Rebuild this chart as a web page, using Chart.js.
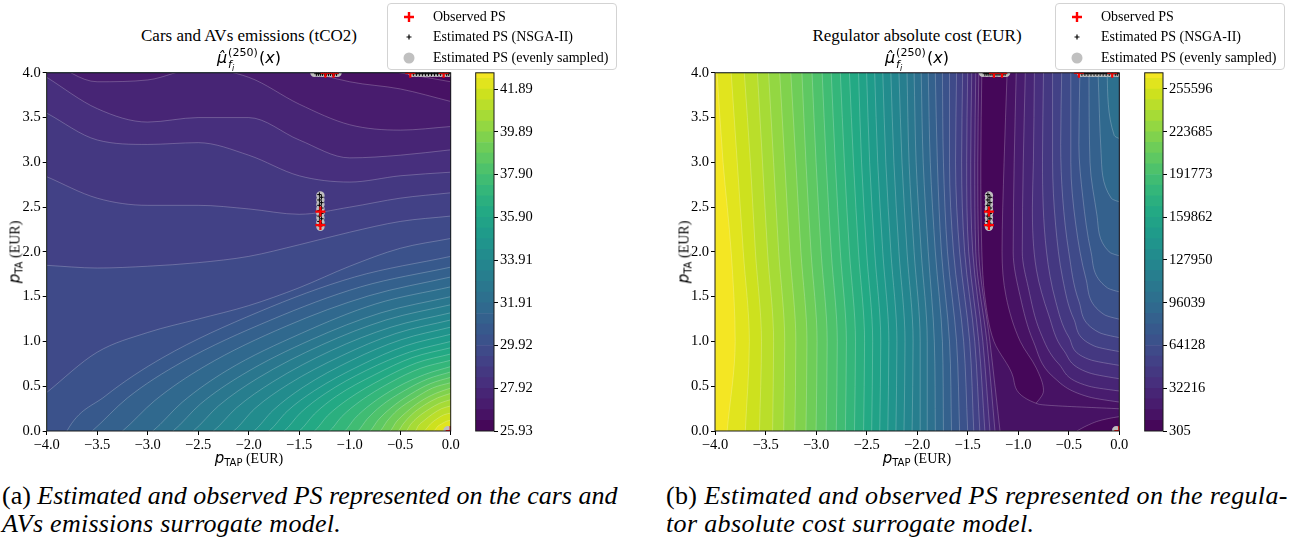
<!DOCTYPE html>
<html><head><meta charset="utf-8">
<script src="https://cdn.jsdelivr.net/npm/chart.js@4.4.0/dist/chart.umd.min.js"></script>
<style>
body{margin:0;width:1293px;height:547px;background:#fff;position:relative;overflow:hidden;font-family:'Liberation Serif',serif;color:#000}
canvas{position:absolute}
.t1{position:absolute;font-size:17px;white-space:nowrap;transform:translateX(-50%);line-height:20px}
.math{position:absolute;font-family:'DejaVu Sans',sans-serif;font-size:16px;white-space:nowrap;transform:translateX(-50%);line-height:22px}
.ss{display:inline-block;position:relative;width:31px;height:10px;margin-left:1px}
.sp{position:absolute;left:0;top:-6px;font-size:11px;line-height:11px}
.sb{position:absolute;left:0;top:6px;font-size:11px;line-height:11px}
.sbi{font-size:8px;position:relative;top:3px}
.xl{position:absolute;white-space:nowrap;transform:translate(-50%,-50%);font-size:14px}
.yl{position:absolute;white-space:nowrap;transform:translate(-50%,-50%) rotate(-90deg);font-size:14px}
.pv{font-family:'DejaVu Sans',sans-serif;font-style:italic;font-size:15px}
.sbs{font-family:'DejaVu Sans',sans-serif;font-size:10px;vertical-align:-3px}
.legend{position:absolute;width:230px;height:67px;border:1px solid #d3d3d3;border-radius:4px;background:rgba(255,255,255,0.9);box-sizing:border-box}
.lrow{position:absolute;left:45px;font-size:14px;white-space:nowrap;transform:translateY(-50%)}
.lmk{position:absolute;left:14px;transform:translateY(-50%)}
.cap{position:absolute;font-size:26px;line-height:28px;white-space:nowrap}
.fontwarm{position:absolute;left:-999px;top:0;font-family:'Liberation Serif';font-size:14.5px}
</style></head><body>
<div class="fontwarm">0123456789.−</div>

<canvas id="cEm" width="460" height="400" style="left:0;top:60px"></canvas>
<canvas id="cEmBar" width="80" height="400" style="left:470px;top:60px"></canvas>
<canvas id="cCost" width="460" height="400" style="left:668px;top:60px"></canvas>
<canvas id="cCostBar" width="90" height="400" style="left:1139px;top:60px"></canvas>

<div class="t1" style="left:249px;top:26px">Cars and AVs emissions (tCO2)</div>
<div class="math" style="left:249px;top:47px"><i>μ̂</i><span class="ss"><span class="sp">(250)</span><span class="sb"><i>f</i><span class="sbi"><i>i</i></span></span></span>(<i>x</i>)</div>
<div class="t1" style="left:917px;top:26px">Regulator absolute cost (EUR)</div>
<div class="math" style="left:917px;top:47px"><i>μ̂</i><span class="ss"><span class="sp">(250)</span><span class="sb"><i>f</i><span class="sbi"><i>i</i></span></span></span>(<i>x</i>)</div>

<div class="xl" style="left:249px;top:458px"><span class="pv">p</span><span class="sbs">TAP</span> (EUR)</div>
<div class="yl" style="left:15px;top:252px"><span class="pv">p</span><span class="sbs">TA</span> (EUR)</div>
<div class="xl" style="left:917px;top:458px"><span class="pv">p</span><span class="sbs">TAP</span> (EUR)</div>
<div class="yl" style="left:684px;top:252px"><span class="pv">p</span><span class="sbs">TA</span> (EUR)</div>

<div class="legend" style="left:387px;top:3px">
  <svg class="lmk" style="top:13px" width="14" height="14"><path d="M7 2V12M2 7H12" stroke="#f00" stroke-width="2.4"/></svg><div class="lrow" style="top:13px">Observed PS</div>
  <svg class="lmk" style="top:33px" width="14" height="14"><path d="M7 4.5V9.5M4.5 7H9.5" stroke="#000" stroke-width="1.2"/></svg><div class="lrow" style="top:33px">Estimated PS (NSGA-II)</div>
  <svg class="lmk" style="top:54px" width="14" height="14"><circle cx="7" cy="7" r="5.5" fill="#c0c0c0"/></svg><div class="lrow" style="top:54px">Estimated PS (evenly sampled)</div>
</div>
<div class="legend" style="left:1055px;top:3px">
  <svg class="lmk" style="top:13px" width="14" height="14"><path d="M7 2V12M2 7H12" stroke="#f00" stroke-width="2.4"/></svg><div class="lrow" style="top:13px">Observed PS</div>
  <svg class="lmk" style="top:33px" width="14" height="14"><path d="M7 4.5V9.5M4.5 7H9.5" stroke="#000" stroke-width="1.2"/></svg><div class="lrow" style="top:33px">Estimated PS (NSGA-II)</div>
  <svg class="lmk" style="top:54px" width="14" height="14"><circle cx="7" cy="7" r="5.5" fill="#c0c0c0"/></svg><div class="lrow" style="top:54px">Estimated PS (evenly sampled)</div>
</div>

<div class="cap" style="left:2px;top:482px">(a) <i>Estimated and observed PS represented on the cars and</i><br><i style="letter-spacing:0.25px">AVs emissions surrogate model.</i></div>
<div class="cap" style="left:666px;top:482px;letter-spacing:0.35px">(b) <i>Estimated and observed PS represented on the regula-</i><br><i>tor absolute cost surrogate model.</i></div>

<script>
// ---------------- data ----------------
const xTicks = [-4, -3.5, -3, -2.5, -2, -1.5, -1, -0.5, 0];
const xTickLabels = ['\u22124.0','\u22123.5','\u22123.0','\u22122.5','\u22122.0','\u22121.5','\u22121.0','\u22120.5','0.0'];
const yTicks = [0, 0.5, 1, 1.5, 2, 2.5, 3, 3.5, 4];
const yTickLabels = ['0.0','0.5','1.0','1.5','2.0','2.5','3.0','3.5','4.0'];

const emissionLevels = [25.930,26.429,26.928,27.426,27.925,28.424,28.923,29.421,29.920,30.419,30.918,31.416,31.915,32.414,32.913,33.411,33.910,34.409,34.908,35.406,35.905,36.404,36.903,37.401,37.900,38.399,38.898,39.396,39.895,40.394,40.893,41.391,41.890,42.389,42.888];
const emissionBarTop = 42.65;
const emissionTicks = [25.93,27.92,29.92,31.91,33.91,35.90,37.90,39.89,41.89];
const emissionTickLabels = ['25.93','27.92','29.92','31.91','33.91','35.90','37.90','39.89','41.89'];

const costLevels = [305,8283,16261,24238,32216,40194,48172,56149,64127,72105,80083,88061,96038,104016,111994,119972,127950,135927,143905,151883,159861,167839,175817,183794,191772,199750,207728,215706,223684,231661,239639,247617,255595,263573,271551];
const costBarTop = 267680;
const costTicks = [305,32216,64128,96039,127950,159862,191773,223685,255596];
const costTickLabels = ['305','32216','64128','96039','127950','159862','191773','223685','255596'];

// emissions: level curves k=1..33 (band k-1 above, band k below), [x, y]
const emissionContours = [
 [[-4,4.6],[-3.5,4.6],[-3,4.6],[-2.5,4.6],[-2,4.5],[-1.5,4.3],[-1,4.1],[-0.5,4.0],[0,3.9]],
 [[-4,4.5],[-3.5,4.4],[-3,4.4],[-2.5,4.35],[-2,4.25],[-1.5,4.05],[-1,3.9],[-0.5,3.82],[0,3.68]],
 [[-4,4.15],[-3.5,3.9],[-3,3.92],[-2.5,4.05],[-2,3.95],[-1.5,3.65],[-1,3.42],[-0.5,3.36],[0,3.40]],
 [[-4,3.95],[-3.5,3.6],[-3,3.45],[-2.5,3.5],[-2,3.5],[-1.5,3.25],[-1,3.05],[-0.5,3.08],[0,3.14]],
 [[-4,3.55],[-3.5,3.25],[-3,3.2],[-2.5,3.22],[-2,3.08],[-1.5,2.85],[-1,2.78],[-0.5,2.85],[0,2.89]],
 [[-4,2.84],[-3.5,2.6],[-3,2.52],[-2.5,2.52],[-2,2.48],[-1.5,2.42],[-1,2.5],[-0.5,2.6],[0,2.66]],
 [[-4,1.85],[-3.5,1.82],[-3,1.84],[-2.5,1.88],[-2,1.95],[-1.5,2.08],[-1,2.22],[-0.5,2.34],[0,2.40]],
 [[-4,0.43],[-3.5,0.88],[-3,1.1],[-2.5,1.25],[-2,1.4],[-1.5,1.6],[-1,1.84],[-0.5,2.04],[0,2.15]],
 [[-4,-0.6],[-3.80,0],[-3.42,0.39],[-2.85,0.82],[-1.90,1.33],[-0.95,1.72],[0,1.95]],
 [[-4,-0.4],[-3.55,0],[-3.20,0.37],[-2.66,0.77],[-1.78,1.24],[-0.89,1.61],[0,1.83]],
 [[-4,-0.6],[-3.25,0],[-2.93,0.34],[-2.44,0.72],[-1.63,1.17],[-0.81,1.51],[0,1.72]],
 [[-4,-0.7],[-2.95,0],[-2.66,0.32],[-2.21,0.68],[-1.48,1.09],[-0.74,1.42],[0,1.61]],
 [[-4,-0.8],[-2.75,0],[-2.48,0.30],[-2.06,0.63],[-1.38,1.02],[-0.69,1.32],[0,1.50]],
 [[-4,-0.9],[-2.55,0],[-2.30,0.28],[-1.91,0.59],[-1.28,0.96],[-0.64,1.24],[0,1.41]],
 [[-4,-1.0],[-2.35,0],[-2.12,0.26],[-1.76,0.55],[-1.18,0.90],[-0.59,1.16],[0,1.32]],
 [[-4,-1.0],[-2.15,0],[-1.94,0.25],[-1.61,0.52],[-1.08,0.84],[-0.54,1.09],[0,1.24]],
 [[-4,-1.0],[-1.95,0],[-1.76,0.23],[-1.46,0.49],[-0.98,0.79],[-0.49,1.02],[0,1.16]],
 [[-4,-1.0],[-1.80,0],[-1.62,0.22],[-1.35,0.45],[-0.90,0.73],[-0.45,0.95],[0,1.08]],
 [[-4,-1.0],[-1.65,0],[-1.49,0.20],[-1.24,0.42],[-0.83,0.68],[-0.41,0.88],[0,1.00]],
 [[-4,-1.0],[-1.50,0],[-1.35,0.19],[-1.13,0.39],[-0.75,0.63],[-0.38,0.82],[0,0.93]],
 [[-4,-1.0],[-1.35,0],[-1.22,0.17],[-1.01,0.36],[-0.68,0.58],[-0.34,0.76],[0,0.86]],
 [[-4,-1.0],[-1.20,0],[-1.08,0.16],[-0.90,0.33],[-0.60,0.54],[-0.30,0.70],[0,0.79]],
 [[-4,-1.0],[-1.05,0],[-0.95,0.14],[-0.79,0.30],[-0.53,0.49],[-0.26,0.63],[0,0.72]],
 [[-4,-1.0],[-0.92,0],[-0.83,0.13],[-0.69,0.28],[-0.46,0.45],[-0.23,0.58],[0,0.66]],
 [[-4,-1.0],[-0.80,0],[-0.72,0.12],[-0.60,0.25],[-0.40,0.41],[-0.20,0.53],[0,0.60]],
 [[-4,-1.0],[-0.70,0],[-0.63,0.11],[-0.53,0.23],[-0.35,0.37],[-0.18,0.48],[0,0.54]],
 [[-4,-1.0],[-0.60,0],[-0.54,0.10],[-0.45,0.20],[-0.30,0.33],[-0.15,0.42],[0,0.48]],
 [[-4,-1.0],[-0.52,0],[-0.47,0.08],[-0.39,0.18],[-0.26,0.29],[-0.13,0.37],[0,0.42]],
 [[-4,-1.0],[-0.44,0],[-0.40,0.07],[-0.33,0.15],[-0.22,0.24],[-0.11,0.31],[0,0.35]],
 [[-4,-1.0],[-0.35,0],[-0.32,0.06],[-0.26,0.12],[-0.18,0.19],[-0.09,0.25],[0,0.28]],
 [[-4,-1.0],[-0.26,0],[-0.23,0.04],[-0.20,0.08],[-0.13,0.14],[-0.07,0.18],[0,0.20]],
 [[-4,-1.0],[-0.17,0],[-0.15,0.02],[-0.13,0.05],[-0.09,0.08],[-0.04,0.11],[0,0.12]],
 [[-4,-1.0],[-0.08,0],[-0.07,0.01],[-0.06,0.02],[-0.04,0.03],[-0.02,0.035],[0,0.04]]
];

// cost: level curves west of the valley, k=1..33 (band k on their left), [x, y]
const costWestContours = [
 [[0.3,0],[0.3,0.22],[-0.8,0.3],[-1.05,0.6],[-1.24,1.0],[-1.33,1.5],[-1.36,2],[-1.37,3],[-1.36,4]],
 [[-1.18,0],[-1.28,1],[-1.39,2],[-1.40,3],[-1.39,4]],
 [[-1.23,0],[-1.31,1],[-1.42,2],[-1.43,3],[-1.42,4]],
 [[-1.28,0],[-1.35,1],[-1.45,2],[-1.47,3],[-1.46,4]],
 [[-1.33,0],[-1.39,1],[-1.49,2],[-1.51,3],[-1.50,4]],
 [[-1.38,0],[-1.43,1],[-1.53,2],[-1.56,3],[-1.55,4]],
 [[-1.44,0],[-1.48,1],[-1.58,2],[-1.62,3],[-1.61,4]],
 [[-1.50,0],[-1.54,1],[-1.64,2],[-1.68,3],[-1.68,4]],
 [[-1.58,0],[-1.61,1],[-1.70,2],[-1.74,3],[-1.75,4]],
 [[-1.66,0],[-1.68,1],[-1.76,2],[-1.80,3],[-1.82,4]],
 [[-1.74,0],[-1.75,1],[-1.82,2],[-1.87,3],[-1.89,4]],
 [[-1.82,0],[-1.83,1],[-1.89,2],[-1.94,3],[-1.96,4]],
 [[-1.90,0],[-1.90,1],[-1.96,2],[-2.01,3],[-2.03,4]],
 [[-1.97,0],[-1.97,1],[-2.03,2],[-2.08,3],[-2.10,4]],
 [[-2.05,0],[-2.04,1],[-2.10,2],[-2.15,3],[-2.18,4]],
 [[-2.13,0],[-2.12,1],[-2.18,2],[-2.23,3],[-2.26,4]],
 [[-2.21,0],[-2.20,1],[-2.26,2],[-2.31,3],[-2.34,4]],
 [[-2.29,0],[-2.28,1],[-2.34,2],[-2.39,3],[-2.42,4]],
 [[-2.37,0],[-2.36,1],[-2.42,2],[-2.47,3],[-2.50,4]],
 [[-2.45,0],[-2.44,1],[-2.50,2],[-2.55,3],[-2.58,4]],
 [[-2.53,0],[-2.52,1],[-2.58,2],[-2.63,3],[-2.67,4]],
 [[-2.62,0],[-2.61,1],[-2.67,2],[-2.72,3],[-2.76,4]],
 [[-2.71,0],[-2.70,1],[-2.76,2],[-2.81,3],[-2.85,4]],
 [[-2.80,0],[-2.79,1],[-2.85,2],[-2.90,3],[-2.94,4]],
 [[-2.90,0],[-2.89,1],[-2.95,2],[-3.00,3],[-3.04,4]],
 [[-3.00,0],[-2.99,1],[-3.05,2],[-3.10,3],[-3.14,4]],
 [[-3.10,0],[-3.09,1],[-3.15,2],[-3.20,3],[-3.25,4]],
 [[-3.21,0],[-3.20,1],[-3.26,2],[-3.31,3],[-3.36,4]],
 [[-3.32,0],[-3.31,1],[-3.37,2],[-3.42,3],[-3.47,4]],
 [[-3.43,0],[-3.42,1],[-3.48,2],[-3.53,3],[-3.58,4]],
 [[-3.56,0],[-3.54,1],[-3.60,2],[-3.65,3],[-3.71,4]],
 [[-3.70,0],[-3.66,1],[-3.72,2],[-3.78,3],[-3.84,4]],
 [[-3.88,0],[-3.80,1],[-3.84,2],[-3.92,3],[-3.98,4]]
];
// cost: level curves east of the valley, k=1..12 (band k on their right), [x, y]
const costEastContours = [
 [[-1.0,0],[-0.85,0.27],[-0.75,0.45],[-0.82,0.7],[-0.98,1.0],[-1.12,1.5],[-1.16,2],[-1.14,3],[-1.11,4]],
 [[0.3,0],[0.3,0.25],[-0.3,0.38],[-0.65,0.6],[-0.85,1.0],[-0.98,1.5],[-1.05,2],[-1.04,3],[-1.02,4]],
 [[0.3,0],[0.3,0.38],[-0.3,0.5],[-0.6,0.75],[-0.78,1.1],[-0.9,1.6],[-0.96,2],[-0.95,3],[-0.93,4]],
 [[0.3,0],[0.3,0.5],[-0.3,0.65],[-0.55,0.9],[-0.7,1.3],[-0.82,1.8],[-0.86,2.5],[-0.85,3],[-0.84,4]],
 [[0.3,0],[0.3,0.65],[-0.3,0.8],[-0.5,1.05],[-0.63,1.45],[-0.72,2],[-0.76,3],[-0.75,4]],
 [[0.3,0],[0.3,0.8],[-0.25,0.95],[-0.45,1.25],[-0.56,1.7],[-0.63,2.3],[-0.66,3],[-0.66,4]],
 [[0.3,0],[0.3,0.95],[-0.2,1.1],[-0.4,1.45],[-0.5,2],[-0.56,2.6],[-0.58,3.2],[-0.57,4]],
 [[0.3,0],[0.3,1.15],[-0.15,1.3],[-0.33,1.7],[-0.43,2.3],[-0.48,3],[-0.48,4]],
 [[0.3,0],[0.3,1.45],[-0.12,1.6],[-0.28,2.0],[-0.36,2.6],[-0.4,3.2],[-0.39,4]],
 [[0.3,0],[0.3,1.85],[-0.1,2.0],[-0.22,2.4],[-0.29,3.0],[-0.3,4]],
 [[0.3,0],[0.3,2.45],[-0.08,2.6],[-0.18,3.1],[-0.21,4]],
 [[0.3,0],[0.3,3.15],[-0.05,3.3],[-0.12,4]]
];
// cost: small low-cost pocket in the bottom-right corner (band 0 on its right), [x, y]
const costCornerContour = [[-0.42,0],[-0.32,0.06],[-0.18,0.12],[0,0.16],[0.3,0.2]];

// Pareto set points
const observedPSx = [-1.29, -1.29, -1.24, -1.16, -0.40, -0.07, 0.0];
const observedPSy = [2.45, 2.30, 4.0, 4.0, 4.0, 4.0, 0.0];
const nsgaPSx = [-1.30,-1.28,-1.30,-1.28,-1.30,-1.28,-1.30,-1.28,-1.30,-1.28,-1.30,-1.28,-1.29,
 -1.33,-1.31,-1.29,-1.27,-1.25,-1.23,-1.21,-1.19,-1.17,-1.15,-1.13,
 -0.37,-0.34,-0.31,-0.28,-0.25,-0.22,-0.19,-0.16,-0.13,-0.10,-0.07,-0.04,-0.02];
const nsgaPSy = [2.64,2.61,2.58,2.55,2.52,2.49,2.46,2.43,2.40,2.37,2.34,2.31,2.29,
 3.99,3.99,3.99,3.99,3.99,3.99,3.99,3.99,3.99,3.99,3.99,
 3.99,3.99,3.99,3.99,3.99,3.99,3.99,3.99,3.99,3.99,3.99,3.99,3.99];
const evenPSx = [-1.29,-1.29,-1.29,-1.29,-1.29,-1.29,-1.29,-1.29,
 -1.35,-1.31,-1.27,-1.23,-1.19,-1.15,-1.12,
 -0.38,-0.34,-0.30,-0.26,-0.22,-0.18,-0.14,-0.10,-0.06,-0.02,
 -0.03];
const evenPSy = [2.28,2.33,2.38,2.43,2.48,2.53,2.58,2.63,
 4.0,4.0,4.0,4.0,4.0,4.0,4.0,
 4.0,4.0,4.0,4.0,4.0,4.0,4.0,4.0,4.0,4.0,
 0.01];

// ---------------- helpers ----------------
Chart.defaults.font.family = 'Liberation Serif';
Chart.defaults.font.size = 14.5;
const VIR = ['#440154','#481a6c','#472f7d','#414487','#39568c','#31688e','#2a788e','#23888e','#1f988b','#22a884','#35b779','#54c568','#7ad151','#a5db36','#d2e21b','#fde725'];
function hx(h){return [parseInt(h.slice(1,3),16),parseInt(h.slice(3,5),16),parseInt(h.slice(5,7),16)];}
function viridis(t){
  const n = VIR.length-1; const p = Math.min(Math.max(t,0),1)*n;
  const i = Math.min(Math.floor(p), n-1); const f = p-i;
  const a = hx(VIR[i]), b = hx(VIR[i+1]);
  return 'rgb('+[0,1,2].map(j=>Math.round(a[j]+(b[j]-a[j])*f)).join(',')+')';
}
const NB = 34;
function bandColor(k){ return viridis((k+0.5)/NB); }
const LINE = 'rgba(255,255,255,0.33)';
const FONT = {family:'Liberation Serif', size:14.5};
const pts = arr => arr.map(p=>({x:p[0], y:p[1]}));
const zip = (xs, ys) => xs.map((x,i)=>({x, y: ys[i]}));

const framePlugin = {
  id:'frame',
  beforeDatasetsDraw(chart, args, opts){
    if(!opts.bg) return;
    const a = chart.chartArea, c = chart.ctx;
    c.save(); c.fillStyle = opts.bg; c.fillRect(a.left, a.top, a.right-a.left, a.bottom-a.top); c.restore();
  },
  afterDatasetsDraw(chart){
    const a = chart.chartArea, c = chart.ctx;
    c.save(); c.strokeStyle = '#1a1a1a'; c.lineWidth = 1;
    c.strokeRect(a.left, a.top, a.right-a.left, a.bottom-a.top); c.restore();
  }
};

function markerSets(){
  return [
    {data: zip(evenPSx, evenPSy), showLine:false, pointStyle:'circle', pointRadius:4.2, pointBackgroundColor:'#bfbfbf', pointBorderWidth:0, borderWidth:0, clip:0, order:3},
    {data: zip(nsgaPSx, nsgaPSy), showLine:false, pointStyle:'cross', pointRadius:2.2, pointBorderColor:'#000', pointBorderWidth:1, clip:0, order:2},
    {data: zip(observedPSx, observedPSy), showLine:false, pointStyle:'cross', pointRadius:5, pointBorderColor:'#ff0000', pointBorderWidth:2.2, clip:0, order:1}
  ];
}

function axes(yWidth){
  const common = {
    type:'linear',
    grid:{display:true, drawOnChartArea:false, drawTicks:true, tickLength:4, color:'#000', lineWidth:1},
    border:{display:false},
  };
  return {
    x: Object.assign({}, common, {
      min:-4, max:0,
      afterBuildTicks: s => { s.ticks = xTicks.map(v=>({value:v})); },
      afterFit: s => { s.height = 29; s.paddingLeft = 0; s.paddingRight = 0; },
      ticks:{callback:(v)=>xTickLabels[xTicks.indexOf(v)], font:FONT, color:'#000', padding:1, maxRotation:0, autoSkip:false}
    }),
    y: Object.assign({}, common, {
      min:0, max:4,
      afterBuildTicks: s => { s.ticks = yTicks.map(v=>({value:v})); },
      afterFit: s => { s.width = yWidth; s.paddingTop = 0; s.paddingBottom = 0; },
      ticks:{callback:(v)=>yTickLabels[yTicks.indexOf(v)], font:FONT, color:'#000', padding:2, autoSkip:false}
    })
  };
}

const baseOpts = {responsive:false, maintainAspectRatio:false, animation:false, events:[]};

function build(){
// ---------------- emissions contour ----------------
(function(){
  const ds = emissionContours.map((c,i)=>({
    data: pts(c), fill:{value:5}, backgroundColor: bandColor(i), borderColor: LINE, borderWidth:0.7,
    pointRadius:0, cubicInterpolationMode:'monotone', order: 100 + i + 1
  }));
  new Chart(document.getElementById('cEm'), {
    type:'line',
    data:{datasets: ds.concat(markerSets())},
    options: Object.assign({}, baseOpts, {
      layout:{padding:{top:12.8, right:9.3, left:0, bottom:0}},
      scales: axes(46.7),
      plugins:{legend:{display:false}, tooltip:{enabled:false}, frame:{bg: bandColor(33)}}
    }),
    plugins:[framePlugin]
  });
})();

// ---------------- cost contour ----------------
(function(){
  const west = costWestContours.map((c,i)=>({
    data: pts(c), fill:{value:-5}, backgroundColor: bandColor(i+1), borderColor: LINE, borderWidth:0.7,
    pointRadius:0, cubicInterpolationMode:'monotone', order: 200 - (i+1)
  }));
  const east = costEastContours.map((c,i)=>({
    data: pts(c), fill:{value:1}, backgroundColor: bandColor(i+1), borderColor: LINE, borderWidth:0.7,
    pointRadius:0, cubicInterpolationMode:'monotone', order: 200 - (i+1)
  }));
  const corner = {data: pts(costCornerContour), fill:{value:1}, backgroundColor: bandColor(0), borderColor: LINE, borderWidth:0.7,
    pointRadius:0, cubicInterpolationMode:'monotone', order: 198.5};
  new Chart(document.getElementById('cCost'), {
    type:'line',
    data:{datasets: west.concat(east, [corner], markerSets())},
    options: Object.assign({}, baseOpts, {
      indexAxis:'y',
      layout:{padding:{top:12.8, right:8.7, left:0, bottom:0}},
      scales: axes(47),
      plugins:{legend:{display:false}, tooltip:{enabled:false}, frame:{bg: bandColor(0)}}
    }),
    plugins:[framePlugin]
  });
})();

// ---------------- colorbars ----------------
function colorbar(id, levels, top, ticks, labels, axisWidth){
  const ds = [];
  for(let k=0;k<levels.length-1;k++){
    ds.push({data:[[levels[k], levels[k+1]]], backgroundColor: bandColor(k), borderWidth:0, grouped:false, barPercentage:1, categoryPercentage:1});
  }
  new Chart(document.getElementById(id), {
    type:'bar',
    data:{labels:[''], datasets: ds},
    options: Object.assign({}, baseOpts, {
      layout:{padding:{top:12.8, left:5.7, right:0, bottom:29}},
      scales:{
        x:{display:false},
        y:{type:'linear', position:'right', min:levels[0], max:top,
           afterBuildTicks: s => { s.ticks = ticks.map(v=>({value:v})); },
           afterFit: s => { s.width = axisWidth; s.paddingTop = 0; s.paddingBottom = 0; },
           grid:{display:true, drawOnChartArea:false, drawTicks:true, tickLength:4, color:'#000'},
           border:{display:false},
           ticks:{callback:(v)=>labels[ticks.indexOf(v)], font:FONT, color:'#000', padding:2, autoSkip:false}}
      },
      plugins:{legend:{display:false}, tooltip:{enabled:false}, frame:{}}
    }),
    plugins:[framePlugin]
  });
}
colorbar('cEmBar', emissionLevels, emissionBarTop, emissionTicks, emissionTickLabels, 56);
colorbar('cCostBar', costLevels, costBarTop, costTicks, costTickLabels, 66);
}

if (document.fonts && document.fonts.load) {
  document.fonts.load('14.5px "Liberation Serif"').then(build, build);
} else { build(); }
</script>
</body></html>
